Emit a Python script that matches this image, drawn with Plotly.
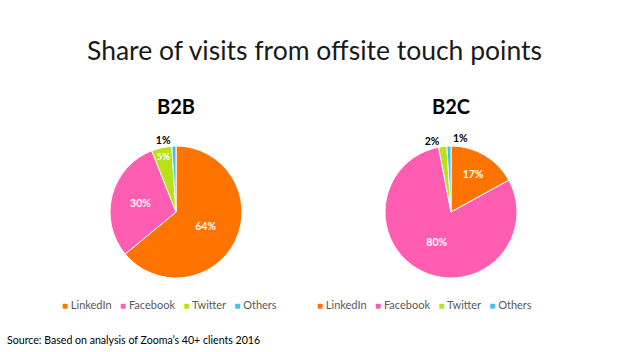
import plotly.graph_objects as go

categories = ["LinkedIn", "Facebook", "Twitter", "Others"]
b2b_values = [64, 30, 5, 1]
b2c_values = [17, 80, 2, 1]
colors = ["#FF7300", "#FF5DB1", "#B9E018", "#3DC3EA"]
chart_titles = ["B2B", "B2C"]
b2b_textpos = ["inside", "inside", "inside", "outside"]
b2c_textpos = ["inside", "inside", "outside", "outside"]

W, H = 627, 352
FONT = "Lato"

def dom(cx, cy, r):
    return dict(x=[(cx - r) / W, (cx + r) / W],
                y=[(H - cy - r) / H, (H - cy + r) / H])

def pie(values, textpos, d, tmpl):
    return go.Pie(
        labels=categories, values=values, sort=False, direction="clockwise",
        rotation=0, domain=d, hole=0,
        marker=dict(colors=colors, line=dict(color="white", width=1)),
        texttemplate=tmpl, textposition=textpos,
        insidetextorientation="horizontal",
        insidetextfont=dict(color="white", size=10.5, family=FONT, weight="bold"),
        outsidetextfont=dict(color="black", size=10.5, family=FONT, weight="bold"),
        showlegend=False, hoverinfo="label+percent",
    )

fig = go.Figure()
fig.add_trace(pie(b2b_values, b2b_textpos, dom(176, 212, 66), "%{value}%"))
# last B2C slice label is placed as an annotation to avoid a leader line
fig.add_trace(pie(b2c_values, b2c_textpos, dom(451, 212, 66),
                  ["%{value}%", "%{value}%", "%{value}%", ""]))

def a(text, cx, cy, **kw):
    d = dict(text=text, x=cx / W, y=1 - cy / H, xref="paper", yref="paper",
             showarrow=False, xanchor="center", yanchor="middle")
    d.update(kw)
    return d

ann = []
ann.append(a("Share of visits from offsite touch points", 314, 50,
             font=dict(family=FONT, size=26.5, color="#1a1a1a")))
for t, cx in zip(chart_titles, [176, 451]):
    ann.append(a(t, cx, 106, font=dict(family=FONT, size=20, color="black", weight="bold")))

ann.append(a(f"{b2c_values[3]}%", 460, 138,
             font=dict(family=FONT, size=10.5, color="black", weight="bold")))

legend_text = "   ".join(
    f'<span style="color:{c};font-size:10px">■</span> {lab}'
    for lab, c in zip(categories, colors))
for cx in [169, 425]:
    ann.append(a(legend_text, cx, 304, font=dict(family=FONT, size=11, color="#595959")))

ann.append(a("Source: Based on analysis of Zooma’s 40+ clients 2016", 5, 340,
             xanchor="left", font=dict(family=FONT, size=10.6, color="black")))

fig.update_layout(width=W, height=H, margin=dict(l=0, r=0, t=0, b=0),
                  paper_bgcolor="white", plot_bgcolor="white", annotations=ann)
fig.write_html("out.html")
